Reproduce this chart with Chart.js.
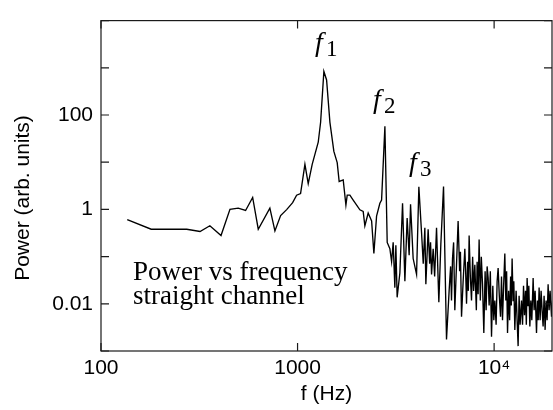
<!DOCTYPE html>
<html>
<head>
<meta charset="utf-8">
<script src="https://cdn.jsdelivr.net/npm/chart.js@4.4.1/dist/chart.umd.min.js"></script>
<style>
  html, body { margin: 0; padding: 0; background: #fff; }
  #wrap { width: 553px; height: 410px; }
</style>
</head>
<body>
<div id="wrap"><canvas id="spectrumChart" width="553" height="410"></canvas></div>
<script>
// spectrum: frequency (Hz) and power (arb. units)
const freqHz = [
  136, 180, 273, 319, 358, 408, 453, 499, 544, 591,
  631, 723, 767, 820, 880, 944, 989, 1036, 1090, 1133,
  1187, 1274, 1310, 1361, 1405, 1461, 1530, 1591, 1628, 1707,
  1762, 1789, 1846, 1919, 2075, 2157, 2200, 2287, 2381, 2445,
  2523, 2623, 2676, 2782, 2858, 2949, 3009, 3065, 3126, 3163,
  3211, 3315, 3421, 3516, 3610, 3696, 3757, 3873, 4031, 4141,
  4274, 4359, 4442, 4495, 4617, 4699, 4749, 4805, 4896, 4982,
  5094, 5233, 5358, 5529, 5725, 5903, 6007, 6071, 6142, 6222,
  6311, 6559, 6676, 6740, 6826, 6956, 7096, 7163, 7238, 7333,
  7393, 7462, 7568, 7674, 7775, 7866, 7977, 8120, 8196, 8291,
  8389, 8507, 8607, 8730, 8864, 8999, 9105, 9212, 9324, 9433,
  9566, 9700, 9849, 9965, 10083, 10237, 10358, 10481, 10627, 10779,
  10904, 11033, 11176, 11336, 11468, 11576, 11700, 11851, 11991, 12130,
  12231, 12346, 12490, 12594, 12745, 12938, 13091, 13247, 13400, 13559,
  13785, 13950, 14112, 14278, 14447, 14584, 14720, 14876, 15017, 15196,
  15371, 15552, 15793, 15976, 16164, 16431, 16606, 16762, 16940, 17140,
  17338, 17543, 17750, 17959, 18171, 18386, 18599, 18823, 19041, 19266,
  19590, 19815, 20100
];
const power = [
  0.61, 0.38, 0.38, 0.34, 0.45, 0.28, 1.0, 1.06, 0.95, 1.79,
  0.38, 1.06, 0.35, 0.74, 0.99, 1.39, 2.0, 2.17, 9.0, 3.5,
  9.0, 26.5, 70, 839, 552, 70, 16.9, 9.8, 3.9, 4.2,
  1.24, 2.0, 2.0, 1.58, 0.98, 0.91, 0.45, 0.84, 0.57, 0.116,
  0.72, 1.35, 1.58, 57.4, 0.20, 0.147, 0.078, 0.20, 0.022, 0.173,
  0.0137, 0.045, 1.35, 0.030, 0.66, 0.107, 1.29, 0.091, 0.042, 3.0,
  0.32, 0.071, 0.41, 0.026, 0.38, 0.071, 0.20, 0.042, 0.147, 0.038,
  0.41, 0.0108, 0.186, 3.07, 0.00175, 0.0188, 0.062, 0.0117, 0.091, 0.20,
  0.0073, 0.57, 0.049, 0.126, 0.0053, 0.030, 0.147, 0.049, 0.010, 0.078,
  0.0188, 0.28, 0.038, 0.0117, 0.099, 0.0188, 0.067, 0.0073, 0.078, 0.016,
  0.23, 0.0117, 0.099, 0.026, 0.0024, 0.049, 0.0073, 0.062, 0.035, 0.0092,
  0.049, 0.0020, 0.024, 0.0045, 0.0117, 0.0036, 0.030, 0.057, 0.0148, 0.0053,
  0.038, 0.0045, 0.024, 0.116, 0.0117, 0.049, 0.0024, 0.0188, 0.0045, 0.038,
  0.0092, 0.091, 0.0117, 0.030, 0.0028, 0.0188, 0.0045, 0.00127, 0.0148, 0.0036,
  0.0117, 0.0036, 0.024, 0.0057, 0.0188, 0.0036, 0.035, 0.0092, 0.024, 0.0033,
  0.0117, 0.0045, 0.035, 0.0073, 0.0188, 0.0024, 0.0117, 0.0045, 0.022, 0.0045,
  0.0188, 0.0073, 0.0033, 0.0148, 0.0028, 0.0117, 0.0045, 0.026, 0.0073, 0.0188,
  0.0053, 0.0117, 0.008
];

const xTickValues = [100, 1000, 10000];
const xTickLabels = ['100', '1000', '10⁴'];
const yTickValues = [0.01, 1, 100];
const yTickLabels = ['0.01', '1', '100'];
const yDecades = [0.001, 0.01, 0.1, 1, 10, 100, 1000, 10000];

const SANS = '"Liberation Sans", Arial, Helvetica, sans-serif';
const SERIF = '"Liberation Serif", "Times New Roman", serif';

const points = freqHz.map((f, i) => ({ x: f, y: power[i] }));

// frame with inward ticks, y title and the text notes
const framePlugin = {
    id: 'frame',
    afterDraw(chart) {
        const ctx = chart.ctx;
        const a = chart.chartArea;
        const xs = chart.scales.x;
        const ys = chart.scales.y;
        const tick = 8;

        ctx.save();
        ctx.strokeStyle = '#1a1a1a';
        ctx.lineWidth = 1.2;
        ctx.strokeRect(a.left, a.top, a.right - a.left, a.bottom - a.top);
        ctx.beginPath();
        yDecades.forEach(v => {
            const py = ys.getPixelForValue(v);
            ctx.moveTo(a.left, py); ctx.lineTo(a.left + tick, py);
            ctx.moveTo(a.right, py); ctx.lineTo(a.right - tick, py);
        });
        xTickValues.forEach(v => {
            const px = xs.getPixelForValue(v);
            ctx.moveTo(px, a.bottom); ctx.lineTo(px, a.bottom - tick);
            ctx.moveTo(px, a.top); ctx.lineTo(px, a.top + tick);
        });
        ctx.stroke();

        ctx.fillStyle = '#000';

        // y axis title
        ctx.save();
        ctx.translate(23, 198);
        ctx.rotate(-Math.PI / 2);
        ctx.font = '21px ' + SANS;
        ctx.textAlign = 'center';
        ctx.textBaseline = 'middle';
        ctx.fillText('Power (arb. units)', 0, 0);
        ctx.restore();

        // note inside the plot
        ctx.textAlign = 'left';
        ctx.textBaseline = 'alphabetic';
        ctx.font = '27px ' + SERIF;
        ctx.fillText('Power vs frequency', 133, 280);
        ctx.fillText('straight channel', 133, 304);

        // peak labels f1, f2, f3
        const peaks = [
            { sub: '1', x: 315, y: 51 },
            { sub: '2', x: 373, y: 108 },
            { sub: '3', x: 409, y: 171 }
        ];
        peaks.forEach(p => {
            ctx.font = 'italic 28px ' + SERIF;
            ctx.fillText('f', p.x, p.y);
            ctx.font = '23px ' + SERIF;
            ctx.fillText(p.sub, p.x + 11, p.y + 5);
        });
        ctx.restore();
    }
};

new Chart(document.getElementById('spectrumChart'), {
    type: 'line',
    data: {
        datasets: [{
            label: 'Power',
            data: points,
            borderColor: '#000',
            borderWidth: 1.35,
            pointRadius: 0,
            tension: 0,
            fill: false
        }]
    },
    options: {
        responsive: false,
        animation: false,
        layout: { padding: { top: 12, right: 1, left: 0, bottom: 0 } },
        plugins: {
            legend: { display: false },
            tooltip: { enabled: false }
        },
        scales: {
            x: {
                type: 'logarithmic',
                min: 100,
                max: 19700,
                grid: { display: false, drawTicks: false },
                border: { display: false },
                afterBuildTicks: scale => {
                    scale.ticks = xTickValues.map(v => ({ value: v }));
                },
                afterFit: scale => { scale.height = 59; },
                ticks: {
                    autoSkip: false,
                    maxRotation: 0,
                    padding: 5,
                    color: '#000',
                    font: { family: SANS, size: 21 },
                    callback: value => xTickLabels[xTickValues.indexOf(value)]
                },
                title: {
                    display: true,
                    text: 'f (Hz)',
                    color: '#000',
                    font: { family: SANS, size: 21 },
                    padding: { top: 0, bottom: 3 }
                }
            },
            y: {
                type: 'logarithmic',
                min: 0.001,
                max: 10000,
                grid: { display: false, drawTicks: false },
                border: { display: false },
                afterBuildTicks: scale => {
                    scale.ticks = yTickValues.map(v => ({ value: v }));
                },
                afterFit: scale => { scale.width = 101; },
                ticks: {
                    autoSkip: false,
                    padding: 8,
                    color: '#000',
                    font: { family: SANS, size: 21 },
                    callback: value => yTickLabels[yTickValues.indexOf(value)]
                }
            }
        }
    },
    plugins: [framePlugin]
});
</script>
</body>
</html>
